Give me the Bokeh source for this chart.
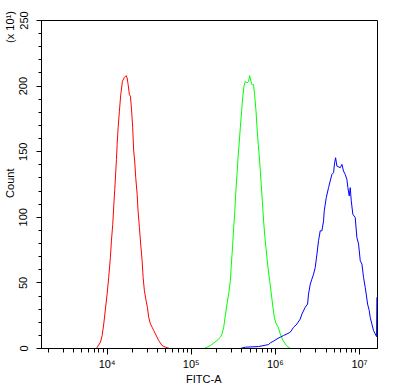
import numpy as np
from bokeh.plotting import figure
from bokeh.models import FixedTicker, Range1d, LinearAxis, LogAxis
from bokeh.embed import file_html
from bokeh.resources import INLINE

# ---- data (log10 of FITC-A, counts in units of 10 events) ----
red_log10 = [3.873, 3.921, 3.941, 3.960, 3.980, 4.000, 4.019, 4.039, 4.051, 4.067,
             4.079, 4.091, 4.103, 4.111, 4.119, 4.131, 4.146, 4.162, 4.182, 4.206,
             4.226, 4.238, 4.250, 4.265, 4.277, 4.289, 4.304, 4.316, 4.328, 4.340,
             4.357, 4.368, 4.384, 4.399, 4.416, 4.428, 4.443, 4.463, 4.479, 4.494,
             4.515, 4.535, 4.554, 4.574, 4.613, 4.653, 4.693, 4.744]
red_count = [0, 4.8, 9.9, 18.7, 30.1, 41.5, 54.2, 69.4, 82, 94.7,
             108.7, 121.3, 135.3, 144.1, 155.5, 168.2, 180.9, 193.5, 203.7, 206.7,
             208, 206.2, 201.1, 193.5, 192.3, 183.4, 168.2, 150.5, 142.9, 130.2,
             117.6, 104.9, 92.2, 79.6, 66.9, 54.2, 44.1, 36.5, 31.4, 23.8,
             18.7, 16.2, 13.7, 11.1, 6.1, 2.3, 1, 0]

green_log10 = [5.156, 5.227, 5.267, 5.306, 5.346, 5.366, 5.386, 5.405, 5.425, 5.445,
               5.465, 5.477, 5.492, 5.504, 5.516, 5.528, 5.544, 5.556, 5.572, 5.583,
               5.599, 5.611, 5.627, 5.643, 5.663, 5.682, 5.694, 5.710, 5.722, 5.741,
               5.753, 5.770, 5.782, 5.797, 5.813, 5.829, 5.845, 5.860, 5.876, 5.892,
               5.912, 5.932, 5.952, 5.971, 5.987, 6.011, 6.035, 6.058, 6.090, 6.130,
               6.177]
green_count = [0, 2.3, 4.1, 6.1, 8.6, 11.1, 16.2, 25.1, 33.9, 41.5,
               51.7, 64.3, 78.3, 92.2, 102.3, 117.6, 132.7, 145.4, 158.1, 168.2,
               180.9, 191, 199.9, 203.7, 202.4, 203.7, 208, 203.7, 201.1, 201.1,
               193.5, 180.9, 168.2, 155.5, 142.9, 127.7, 112.5, 97.3, 84.6, 74.5,
               61.8, 51.7, 41.5, 31.4, 23.8, 18.7, 16.2, 11.1, 6.1, 2.3,
               0]

blue_log10 = [5.583, 5.643, 5.801, 5.880, 5.920, 5.940, 5.979, 6.019, 6.058, 6.098,
              6.138, 6.177, 6.217, 6.257, 6.296, 6.316, 6.355, 6.383, 6.394, 6.415,
              6.434, 6.454, 6.474, 6.494, 6.513, 6.533, 6.553, 6.573, 6.581, 6.605,
              6.632, 6.652, 6.672, 6.692, 6.704, 6.716, 6.731, 6.771, 6.791, 6.810,
              6.830, 6.850, 6.862, 6.878, 6.890, 6.902, 6.921, 6.949, 6.969, 6.989,
              7.009, 7.029, 7.048, 7.068, 7.080, 7.096, 7.116, 7.127, 7.147, 7.167,
              7.187, 7.203, 7.207]
blue_count = [0, 1.0, 1.5, 2.5, 3.0, 4.3, 5.6, 7.3, 8.6, 9.9,
              11.1, 12.4, 16.2, 18.7, 22.5, 26.3, 31.4, 33.9, 41.5, 49.1,
              52.9, 56.7, 61.8, 71.9, 82.1, 89.7, 89.7, 97.3, 104.9, 115,
              122.6, 127.7, 132.7, 134, 141.6, 145.4, 139.1, 137.8, 140.3, 135.3,
              132.7, 128.9, 122.6, 116.3, 122.6, 112.5, 102.3, 99.8, 84.6, 79.6,
              66.9, 64.3, 54.2, 46.6, 41.5, 33.9, 28.9, 23.8, 18.7, 13.7,
              11.1, 9.0, 39]

x_major_ticks = [1e4, 1e5, 1e6, 1e7]
x_major_labels = ["10\u2074", "10\u2075", "10\u2076", "10\u2077"]
y_major_ticks = [0, 50, 100, 150, 200, 250]

x_title = "FITC-A"
y_title = "Count"
y_scale_note = "(x 10\u00b9)"

FONT = "'Liberation Sans Narrow', 'Liberation Sans', Arial, sans-serif"
TXT = "#000000"

W, H = 396, 387
p = figure(width=W, height=H, x_axis_type="log",
           x_range=Range1d(10 ** 3.22, 10 ** 7.214), y_range=Range1d(0, 250),
           output_backend="svg", toolbar_location=None,
           min_border_left=41, min_border_right=19,
           min_border_top=20, min_border_bottom=39)
p.grid.visible = False
p.outline_line_color = "black"
p.outline_line_width = 1
p.background_fill_color = "white"
p.border_fill_color = "white"

p.line(10 ** np.array(red_log10), red_count, line_color="#ff0000", line_width=1)
p.line(10 ** np.array(green_log10), green_count, line_color="#00ff00", line_width=1)
p.line(10 ** np.array(blue_log10), blue_count, line_color="#0000ff", line_width=1)

x_minor = [k * 10 ** d for d in range(3, 8) for k in range(2, 10)
           if 10 ** 3.22 <= k * 10 ** d <= 10 ** 7.214]
p.xaxis.ticker = FixedTicker(ticks=x_major_ticks, minor_ticks=x_minor)
p.xaxis.major_label_overrides = {t: l for t, l in zip(x_major_ticks, x_major_labels)}
p.yaxis.ticker = FixedTicker(ticks=y_major_ticks, minor_ticks=list(range(0, 251, 10)))
p.yaxis.major_label_orientation = "parallel"

for ax in (p.xaxis[0], p.yaxis[0]):
    ax.axis_line_color = "black"
    ax.major_tick_line_color = "black"
    ax.minor_tick_line_color = "black"
    ax.major_tick_in = 0
    ax.minor_tick_in = 0
    ax.major_label_text_font = FONT
    ax.major_label_text_font_size = "11px"
    ax.major_label_text_color = TXT
p.xaxis.major_tick_out = 6
p.xaxis.minor_tick_out = 4
p.xaxis.major_label_standoff = 3
p.yaxis.major_tick_out = 5
p.yaxis.minor_tick_out = 3
p.yaxis.major_label_standoff = 9

# outer "title" axes: their tick labels carry the axis titles at the reference positions
y_title_pos = [126, 245]
left_titles = LinearAxis(ticker=FixedTicker(ticks=y_title_pos, minor_ticks=[]),
                         major_label_overrides={y_title_pos[0]: y_title, y_title_pos[1]: y_scale_note},
                         major_label_orientation="parallel",
                         axis_line_color=None, major_tick_line_color=None, minor_tick_line_color=None,
                         major_tick_out=0, major_tick_in=0, major_label_standoff=0,
                         major_label_text_font=FONT, major_label_text_font_size="11px",
                         major_label_text_color=TXT)
p.add_layout(left_titles, "left")

x_title_pos = [141000]
bottom_title = LogAxis(ticker=FixedTicker(ticks=x_title_pos, minor_ticks=[]),
                       major_label_overrides={x_title_pos[0]: x_title},
                       axis_line_color=None, major_tick_line_color=None, minor_tick_line_color=None,
                       major_tick_out=0, major_tick_in=0, major_label_standoff=0,
                       major_label_text_font=FONT, major_label_text_font_size="11px",
                       major_label_text_color=TXT)
p.add_layout(bottom_title, "below")

open("out.html", "w").write(file_html(p, INLINE))
